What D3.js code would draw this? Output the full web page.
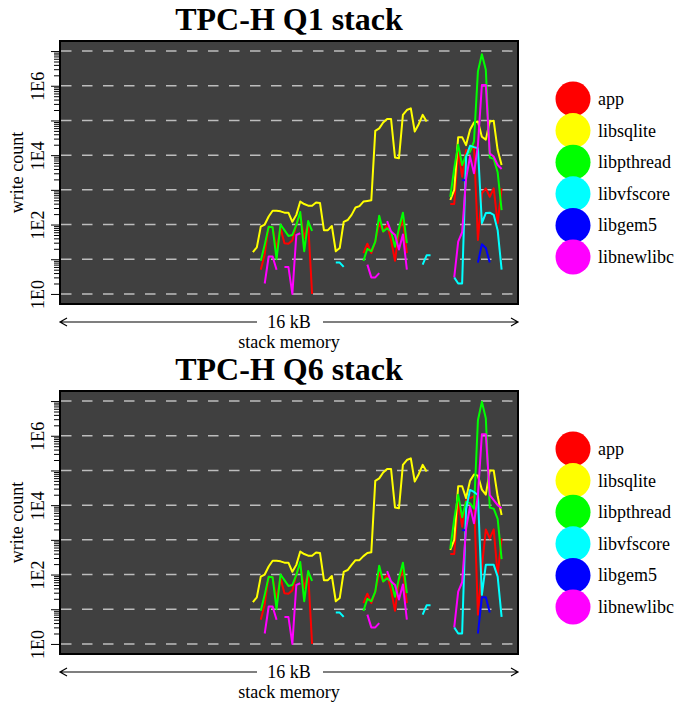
<!DOCTYPE html>
<html>
<head>
<meta charset="utf-8">
<script src="https://cdn.jsdelivr.net/npm/d3@7"></script>
<style>
  body { margin: 0; background: #fff; }
  svg { display: block; }
</style>
</head>
<body>
<div id="chart"></div>
<script>
// legend / series
var seriesNames = ["app", "libsqlite", "libpthread", "libvfscore", "libgem5", "libnewlibc"];
var seriesColors = ["#ff0000", "#ffff00", "#00ff00", "#00ffff", "#0000ff", "#ff00ff"];

// y axis ticks (write count, log scale)
var gridTicks = [1, 10, 100, 1e3, 1e4, 1e5, 1e6, 1e7];
var labelTicks = [1, 1e2, 1e4, 1e6];
var labelText = ["1E0", "1E2", "1E4", "1E6"];

// each series = list of [first stack slot, write counts of consecutive slots]
// TPC-H Q1
var q1App = [
    [50, [5, 14, 87, 83, 20, 78, 29, 28, 35, 100, 200, 40, 112, 1]],
    [76, [15, 28, 15, 32, 112, 63, 98, 36, 9, 69, 135, 15]],
    [98, [390, 390, 14000, 2400, 14000, 14000, 18000, 36, 790, 1100, 630, 1100, 110, 1100]]
];
var q1Sqlite = [
    [48, [16, 22, 87, 100, 170, 250, 250, 240, 220, 220, 120, 190, 460, 390, 350, 350, 430, 420, 69, 69,
          91, 17, 21, 120, 135, 190, 310, 340, 460, 480, 500, 50000, 59000, 87000, 110000, 110000, 8500, 8100,
          145000, 200000, 224000, 48000, 78000, 145000, 93000]],
    [98, [510, 1000, 33000, 33000, 19500, 54000, 87000, 93000, 34000, 28000, 93000, 98000, 14000, 5200]]
];
var q1Pthread = [
    [50, [9, 26, 87, 83, 10, 100, 69, 47, 50, 98, 230, 17, 126, 66]],
    [76, [9, 20, 17, 32, 180, 63, 78, 63, 23, 78, 220, 29]],
    [98, [630, 4200, 20000, 5200, 10000, 12600, 25000, 2600000, 8100000, 2900000, 8500, 7900, 3200, 260]]
];
var q1Vfscore = [
    [69, [8, 8, 6]],
    [91, [7, 13, 13]],
    [99, [3, 2, 2, 9100, 18600, 17000, 15800, 110, 214, 219, 190, 69, 5]]
];
var q1Gem5 = [
    [101, [1900, 1900]],
    [105, [8, 27, 21, 8]]
];
var q1Newlibc = [
    [51, [2, 12, 12, 5]],
    [56, [6, 6, 1, 50, 56]],
    [77, [7, 3, 3, 4]],
    [82, [126, 63, 50, 19, 52, 5]],
    [99, [3, 32, 60, 2100, 9100, 3000, 19500, 1050000, 1050000, 11200, 9100, 5200, 4000]]
];

// TPC-H Q6
var q6App = [
    [50, [5, 14, 87, 83, 20, 78, 29, 28, 35, 100, 200, 40, 112, 1]],
    [76, [15, 28, 15, 32, 112, 63, 98, 36, 9, 69, 135, 15]],
    [98, [390, 390, 14000, 2400, 14000, 16000, 18000, 7, 160, 2000, 1100, 2000, 100, 1100]]
];
var q6Sqlite = [
    [48, [16, 22, 87, 100, 170, 250, 250, 240, 220, 220, 120, 190, 460, 390, 350, 350, 430, 420, 69, 69,
          91, 17, 21, 120, 135, 190, 260, 260, 340, 420, 440, 50000, 59000, 87000, 110000, 110000, 8500, 8100,
          145000, 200000, 224000, 48000, 78000, 145000, 93000]],
    [98, [510, 1000, 35000, 35000, 16000, 50000, 76000, 71000, 28000, 20000, 100000, 100000, 18000, 5200]]
];
var q6Pthread = [
    [50, [9, 26, 87, 83, 10, 100, 69, 47, 50, 98, 230, 17, 126, 66]],
    [76, [9, 20, 17, 32, 180, 63, 78, 63, 23, 78, 220, 29]],
    [98, [560, 4000, 20000, 4500, 12600, 11200, 7900, 2800000, 9500000, 3200000, 8500, 7900, 4000, 280]]
];
var q6Vfscore = [
    [69, [8, 8, 6]],
    [91, [7, 13, 13]],
    [99, [3, 2, 2, 7900, 27500, 24000, 19500, 26, 190, 190, 190, 87, 6]]
];
var q6Gem5 = [
    [101, [1900, 1900]],
    [105, [2, 22, 22, 8]]
];
var q6Newlibc = [
    [51, [2, 12, 12, 5]],
    [56, [6, 6, 1, 50, 56]],
    [77, [7, 3, 3, 4]],
    [82, [126, 63, 50, 19, 52, 5]],
    [99, [3, 32, 60, 2100, 9100, 3000, 19500, 1100000, 1100000, 19500, 14000, 10000, 8100]]
];

var FONT = "'Liberation Serif', 'Times New Roman', serif";
var W = 676, H = 706;

var svg = d3.select("#chart").append("svg")
    .attr("width", W)
    .attr("height", H);

var plot = { left: 60, right: 518, top: 41, bottom: 304 };

// func for one panel
function drawPanel(offsetY, title, series) {
    var g = svg.append("g").attr("transform", `translate(0,${offsetY})`);

    var x = d3.scaleLinear()
        .domain([-0.85, 115.15])
        .range([plot.left, plot.right]);

    var y = d3.scaleLog()
        .domain([Math.pow(10, -0.29), Math.pow(10, 7.29)])
        .range([plot.bottom, plot.top]);

    // title
    g.append("text")
        .attr("x", (plot.left + plot.right) / 2)
        .attr("y", 30)
        .attr("text-anchor", "middle")
        .style("font-family", FONT)
        .style("font-size", "32px")
        .style("font-weight", "bold")
        .text(title);

    // background
    g.append("rect")
        .attr("x", plot.left)
        .attr("y", plot.top)
        .attr("width", plot.right - plot.left)
        .attr("height", plot.bottom - plot.top)
        .attr("fill", "#404040");

    // grid
    g.selectAll(".grid")
        .data(gridTicks)
        .enter().append("line")
        .attr("class", "grid")
        .attr("x1", plot.left + 1)
        .attr("x2", plot.right)
        .attr("y1", function (d) { return y(d); })
        .attr("y2", function (d) { return y(d); })
        .attr("stroke", "#bdbdbd")
        .attr("stroke-width", 1.5)
        .attr("stroke-dasharray", "10.5,10.5");

    // lines
    var line = d3.line()
        .x(function (d) { return x(d[0]); })
        .y(function (d) { return y(d[1]); });

    series.forEach(function (segs, i) {
        segs.forEach(function (seg) {
            var pts = seg[1].map(function (v, k) { return [seg[0] + k, v]; });
            g.append("path")
                .datum(pts)
                .attr("fill", "none")
                .attr("stroke", seriesColors[i])
                .attr("stroke-width", 2)
                .attr("stroke-linejoin", "round")
                .attr("d", line);
        });
    });

    // frame
    g.append("rect")
        .attr("x", plot.left)
        .attr("y", plot.top)
        .attr("width", plot.right - plot.left)
        .attr("height", plot.bottom - plot.top)
        .attr("fill", "none")
        .attr("stroke", "#000")
        .attr("stroke-width", 2);

    // minor ticks
    var minor = [];
    for (var e = 0; e < 7; e++) {
        for (var m = 2; m < 10; m++) minor.push(m * Math.pow(10, e));
    }
    g.append("g")
        .attr("transform", `translate(${plot.left - 1},0)`)
        .call(d3.axisLeft(y).tickValues(minor).tickSize(5).tickFormat(""))
        .call(function (a) { a.select(".domain").remove(); });

    // major ticks + labels
    var ax = g.append("g")
        .attr("transform", `translate(${plot.left - 1},0)`)
        .call(d3.axisLeft(y).tickValues(gridTicks).tickSize(8)
            .tickFormat(function (d) {
                var idx = labelTicks.indexOf(d);
                return idx >= 0 ? labelText[idx] : "";
            }));
    ax.select(".domain").remove();
    ax.selectAll("text")
        .attr("x", 0)
        .attr("dy", 0)
        .attr("transform", "translate(-15,0) rotate(-90)")
        .attr("text-anchor", "middle")
        .style("font-family", FONT)
        .style("font-size", "18px")
        .attr("fill", "#000");

    // y label
    g.append("text")
        .attr("transform", `translate(23,${(plot.top + plot.bottom) / 2}) rotate(-90)`)
        .attr("text-anchor", "middle")
        .style("font-family", FONT)
        .style("font-size", "18px")
        .text("write count");

    // 16 kB arrow
    var ay = 322, cx = (plot.left + plot.right) / 2;
    g.append("path")
        .attr("d", `M${plot.left},${ay}H${cx - 32}M${cx + 34},${ay}H${plot.right}` +
            `M${plot.left + 7},${ay - 4}L${plot.left},${ay}L${plot.left + 7},${ay + 4}` +
            `M${plot.right - 7},${ay - 4}L${plot.right},${ay}L${plot.right - 7},${ay + 4}`)
        .attr("fill", "none")
        .attr("stroke", "#000")
        .attr("stroke-width", 1.2);
    g.append("text")
        .attr("x", cx)
        .attr("y", ay + 6)
        .attr("text-anchor", "middle")
        .style("font-family", FONT)
        .style("font-size", "18px")
        .text("16 kB");
    g.append("text")
        .attr("x", cx)
        .attr("y", ay + 26)
        .attr("text-anchor", "middle")
        .style("font-family", FONT)
        .style("font-size", "18px")
        .text("stack memory");

    // legend
    var leg = g.selectAll(".leg")
        .data(seriesNames)
        .enter().append("g")
        .attr("class", "leg")
        .attr("transform", function (d, i) { return `translate(573,${99 + i * 31.6})`; });
    leg.append("circle")
        .attr("r", 17.5)
        .attr("fill", function (d, i) { return seriesColors[i]; });
    leg.append("text")
        .attr("x", 25)
        .attr("y", 6)
        .style("font-family", FONT)
        .style("font-size", "18px")
        .text(function (d) { return d; });
}

drawPanel(0, "TPC-H Q1 stack", [q1App, q1Sqlite, q1Pthread, q1Vfscore, q1Gem5, q1Newlibc]);
drawPanel(350, "TPC-H Q6 stack", [q6App, q6Sqlite, q6Pthread, q6Vfscore, q6Gem5, q6Newlibc]);
</script>
</body>
</html>
